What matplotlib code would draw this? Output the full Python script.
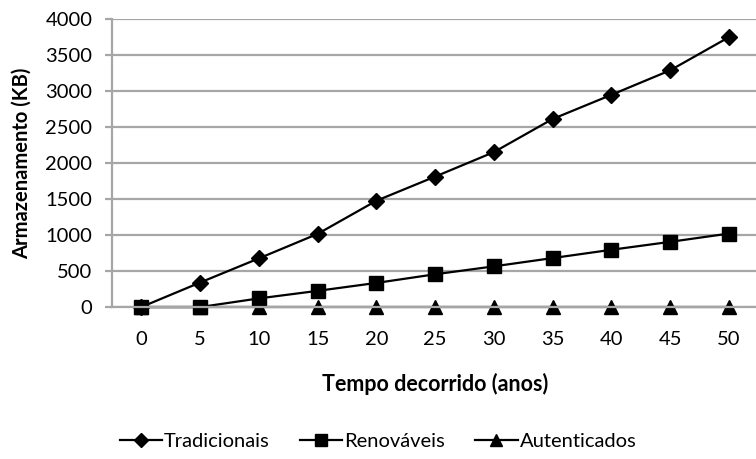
import matplotlib
matplotlib.use("Agg")
import matplotlib.pyplot as plt

plt.rcParams['font.family'] = ['Lato', 'DejaVu Sans']

# anos decorridos
anos = ['0', '5', '10', '15', '20', '25', '30', '35', '40', '45', '50']
tradicionais = [0, 340, 675, 1015, 1475, 1810, 2150, 2610, 2945, 3285, 3745]
renovaveis = [0, 0, 120, 225, 335, 455, 565, 680, 795, 905, 1020]
autenticados = [0, 0, 0, 0, 0, 0, 0, 0, 0, 0, 0]
yticks = [0, 500, 1000, 1500, 2000, 2500, 3000, 3500, 4000]

fig = plt.figure(figsize=(7.56, 4.59), dpi=100)
ax = fig.add_axes([0.148, 0.331, 0.855, 0.628])

x = list(range(len(anos)))
l1, = ax.plot(x, tradicionais, color='black', lw=1.6, marker='D', ms=8, label='Tradicionais')
l2, = ax.plot(x, renovaveis, color='black', lw=1.6, marker='s', ms=10, label='Renováveis')
l3, = ax.plot(x, autenticados, color='black', lw=1.6, marker='^', ms=9.5, label='Autenticados')
for l in (l1, l2, l3):
    l.set_clip_on(False)

ax.set_xlim(-0.5, len(anos) - 0.5)
ax.set_ylim(0, 4000)
ax.set_yticks(yticks)
ax.set_xticks(x)
ax.set_xticklabels(anos)
ax.yaxis.grid(True, color='#a6a6a6', lw=1.6)
ax.set_axisbelow(True)

for s in ('top', 'right'):
    ax.spines[s].set_visible(False)
ax.spines['left'].set_color('#a6a6a6')
ax.spines['left'].set_linewidth(1.6)
ax.spines['bottom'].set_color('#a6a6a6')
ax.spines['bottom'].set_linewidth(1.6)
ax.tick_params(axis='y', length=5, width=1.6, color='#a6a6a6', labelsize=14.5, pad=9)
ax.tick_params(axis='x', length=0, labelsize=14.5, pad=17)

ax.set_ylabel('Armazenamento (KB)', fontsize=14.5, fontweight='bold', labelpad=10)
ax.set_xlabel('Tempo decorrido (anos)', fontsize=15.5, fontweight='bold', labelpad=18)

fig.legend(handles=[l1, l2, l3], loc='center', bbox_to_anchor=(0.5, 1 - 441 / 459),
           ncol=3, frameon=False, fontsize=14.5, handlelength=2.1, handletextpad=0.1,
           columnspacing=1.5, markerscale=0.85)

fig.savefig('out.png', dpi=100)
